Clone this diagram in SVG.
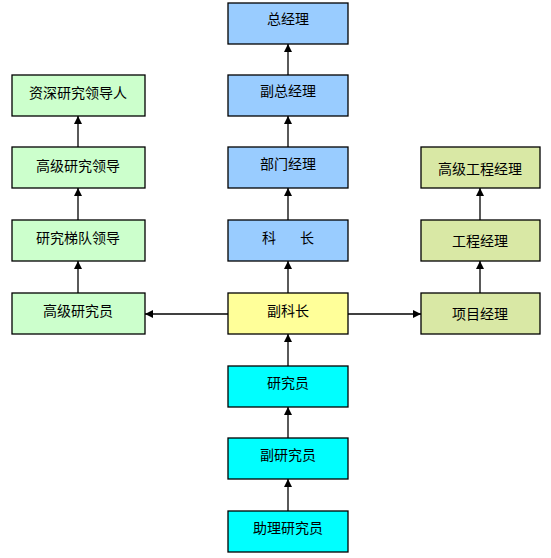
<svg xmlns="http://www.w3.org/2000/svg" width="551" height="558" viewBox="0 0 551 558">
<style>
.b{stroke:#000;stroke-width:1.3}
.blue{fill:#99CCFF}.yel{fill:#FFFF99}.cyan{fill:#00FFFF}.grn{fill:#CCFFCC}.olv{fill:#D9E8A5}
text{font-family:"Noto Sans CJK SC","Noto Sans",sans-serif;font-size:14px;text-anchor:middle;dominant-baseline:central;fill:#000}
.c line{stroke:#000;stroke-width:1.3;marker-end:url(#ah)}
</style>
<defs>
<marker id="ah" viewBox="0 0 10 10" refX="10" refY="5" markerWidth="8" markerHeight="8" markerUnits="userSpaceOnUse" orient="auto">
<path d="M0,0 L10,5 L0,10 z" fill="#000"/>
</marker>
</defs>
<rect width="551" height="558" fill="#fff"/>
<g id="connectors" class="c">
<line x1="288" y1="75" x2="288" y2="44"/>
<line x1="288" y1="147" x2="288" y2="116"/>
<line x1="288" y1="220" x2="288" y2="188"/>
<line x1="288" y1="293" x2="288" y2="261"/>
<line x1="288" y1="366" x2="288" y2="334"/>
<line x1="288" y1="438" x2="288" y2="407"/>
<line x1="288" y1="511" x2="288" y2="479"/>
<line x1="78" y1="147" x2="78" y2="116"/>
<line x1="78" y1="220" x2="78" y2="188"/>
<line x1="78" y1="293" x2="78" y2="261"/>
<line x1="480" y1="220" x2="480" y2="188"/>
<line x1="480" y1="293" x2="480" y2="261"/>
<line x1="228" y1="314" x2="145" y2="314"/>
<line x1="348" y1="314" x2="421" y2="314"/>
</g>
<g id="n1"><rect class="b blue" x="228" y="3" width="120" height="41"/><text x="288" y="18">总经理</text></g>
<g id="n2"><rect class="b blue" x="228" y="75" width="120" height="41"/><text x="288" y="90">副总经理</text></g>
<g id="n3"><rect class="b blue" x="228" y="147" width="120" height="41"/><text x="288" y="163">部门经理</text></g>
<g id="n4"><rect class="b blue" x="228" y="220" width="120" height="41"/><text x="288" y="237">科<tspan dx="24">长</tspan></text></g>
<g id="n5"><rect class="b yel" x="228" y="293" width="120" height="41"/><text x="288" y="310">副科长</text></g>
<g id="n6"><rect class="b cyan" x="228" y="366" width="120" height="41"/><text x="288" y="382">研究员</text></g>
<g id="n7"><rect class="b cyan" x="228" y="438" width="120" height="41"/><text x="288" y="454">副研究员</text></g>
<g id="n8"><rect class="b cyan" x="228" y="511" width="120" height="41"/><text x="288" y="527">助理研究员</text></g>
<g id="l1"><rect class="b grn" x="12" y="75" width="133" height="41"/><text x="78" y="92">资深研究领导人</text></g>
<g id="l2"><rect class="b grn" x="12" y="147" width="133" height="41"/><text x="78" y="165">高级研究领导</text></g>
<g id="l3"><rect class="b grn" x="12" y="220" width="133" height="41"/><text x="78" y="237">研究梯队领导</text></g>
<g id="l4"><rect class="b grn" x="12" y="293" width="133" height="41"/><text x="78" y="310">高级研究员</text></g>
<g id="r1"><rect class="b olv" x="421" y="147" width="119" height="41"/><text x="480" y="168">高级工程经理</text></g>
<g id="r2"><rect class="b olv" x="421" y="220" width="119" height="41"/><text x="480" y="240">工程经理</text></g>
<g id="r3"><rect class="b olv" x="421" y="293" width="119" height="41"/><text x="480" y="313">项目经理</text></g>
</svg>
